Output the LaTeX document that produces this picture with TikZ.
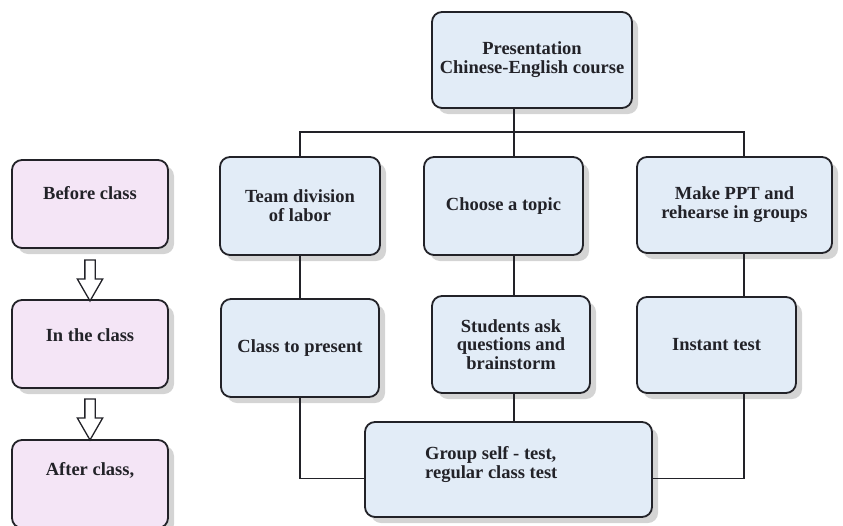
\documentclass[tikz,border=0pt]{standalone}
\usepackage{fontspec}
\setmainfont{Liberation Serif}
\usetikzlibrary{shadows,shapes.arrows}

\definecolor{stagepink}{RGB}{244,229,246}
\definecolor{stepblue}{RGB}{226,236,247}
\definecolor{inkgray}{RGB}{34,34,40}

\tikzset{every picture/.style={line width=1.5pt}}
\tikzset{
  boxbase/.style={draw=inkgray, line width=1.8pt, rounded corners=10pt, inner sep=0pt,
    drop shadow={shadow xshift=6pt, shadow yshift=-6pt, fill=black!17, opacity=1},
    font=\fontsize{18.5}{18.8}\selectfont\bfseries, text=inkgray, align=center},
  stagebox/.style={boxbase, fill=stagepink, minimum width=156pt, minimum height=88pt},
  stepbox/.style={boxbase, fill=stepblue},
  boxtext/.style={font=\fontsize{18.5}{18.8}\selectfont\bfseries, text=inkgray},
  hollowarrow/.style={single arrow, draw=inkgray, line width=1.3pt, fill=white, rotate=-90,
    inner sep=4.5pt, minimum height=41pt, single arrow head extend=7.5pt, single arrow tip angle=60},
  link/.style={draw=inkgray, line width=1.5pt}
}

\begin{document}
\begin{tikzpicture}[x=1pt,y=-1pt]
	\useasboundingbox (0,0) rectangle (843,525);

	%Stages on the left
	\node[stagebox] (before) at (90,204) {};
	\node[boxtext] (beforetext) at ([yshift=11pt]before.center) {Before class};
	\node[stagebox] (inclass) at (90,344) {};
	\node[boxtext] (inclasstext) at ([yshift=9pt]inclass.center) {In the class};
	\node[stagebox] (after) at (90,484) {};
	\node[boxtext] (aftertext) at ([yshift=14pt]after.center) {After class,};

	%Hollow arrows
	\node[hollowarrow] (arrowone) at (90,276) {};
	\node[hollowarrow] (arrowtwo) at (90,415) {};

	%Course box
	\node[stepbox, minimum width=200pt, minimum height=96pt] (course) at (532,60) {Presentation\\Chinese-English course};

	%Second row
	\node[stepbox, minimum width=160pt, minimum height=98pt] (team) at (300,206) {Team division\\of labor};
	\node[stepbox, minimum width=159pt, minimum height=98pt] (topic) at (503.5,206) {Choose a topic};
	\node[stepbox, minimum width=195pt, minimum height=96pt] (ppt) at (734.5,205) {Make PPT and\\rehearse in groups};

	%Third row
	\node[stepbox, minimum width=158pt, minimum height=98pt] (present) at (300,348) {Class to present};
	\node[stepbox, minimum width=158pt, minimum height=97pt] (students) at (511,344.5) {Students ask\\questions and\\brainstorm};
	\node[stepbox, minimum width=159pt, minimum height=96pt] (instant) at (716.5,345) {Instant test};

	%Group test box
	\node[stepbox, minimum width=287pt, minimum height=95pt] (group) at (508.5,469.5) {};
	\node[boxtext, anchor=west, align=left] (grouptext) at ([xshift=57pt,yshift=5pt]group.west) {Group self - test,\\regular class test};

	%Connector lines
	\coordinate (midline) at (514,0);
	\coordinate (rightline) at (744,0);
	\coordinate (bus) at (514,132);
	\draw[link] (midline |- course.south) -- (bus);
	\draw[link] (team.north) -- (team.north |- bus) -- (rightline |- bus) -- (rightline |- ppt.north);
	\draw[link] (bus) -- (midline |- topic.north);
	\draw[link] (team.south) -- (present.north);
	\draw[link] (midline |- topic.south) -- (midline |- students.north);
	\draw[link] (rightline |- ppt.south) -- (rightline |- instant.north);
	\draw[link] (midline |- students.south) -- (midline |- group.north);
	\draw[link] (present.south) |- ([yshift=-9pt]group.west);
	\draw[link] (rightline |- instant.south) |- ([yshift=-9pt]group.east);
\end{tikzpicture}
\end{document}
